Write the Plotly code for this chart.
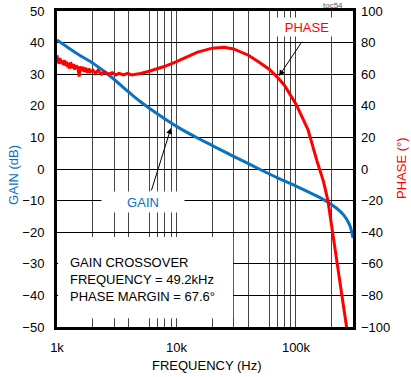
import plotly.graph_objects as go

# gain curve (dB vs Hz)
gain_freq = [1000, 1200, 1500, 2000, 2600, 3000, 4000, 5000, 7000, 10000, 15000,
             20000, 30000, 40000, 49200, 70000, 100000, 150000, 185000, 220000,
             250000, 280000, 300000]
gain_db = [40.8, 38.8, 36.3, 33.5, 30.3, 28.4, 24.3, 21.3, 17.3, 13.5, 9.8,
           7.4, 4.0, 1.7, 0.0, -2.8, -5.4, -8.6, -10.5, -12.5,
           -14.5, -17.5, -21.8]

# phase curve (degrees vs Hz), noisy at low frequency
phase_freq = [1000, 1015, 1030, 1045, 1060, 1080, 1100, 1130, 1150, 1170, 1200,
              1230, 1250, 1280, 1300, 1350, 1380, 1400, 1450, 1500, 1530, 1560,
              1600, 1650, 1700, 1730, 1800, 1850, 1900, 2000, 2100, 2200,
              2350, 2500, 2700, 2900, 3100, 3300, 3600, 3900, 4200, 4600, 5000,
              6000, 7000, 8000, 10000, 12500, 15000, 20000, 25000, 30000, 40000,
              49200, 60000, 70000, 80000, 100000, 126000, 150000, 170000, 185000,
              200000, 233000, 267000, 290000]
phase_deg = [72, 67, 70.5, 66.5, 70, 67, 68.5, 66, 69, 65.5, 68,
             64.5, 67, 63.5, 67.5, 64, 66.5, 63, 65.5, 63.5, 58.5, 65,
             62, 64.5, 61.5, 64, 61, 63.5, 61.5, 62.5, 60.5, 62.5,
             60, 61.5, 60, 61, 59.5, 60.5, 59.5, 60.5, 59.5, 59.8, 60.5,
             62, 63.5, 65, 68, 71.5, 74, 76.5, 77, 76, 72,
             67.6, 63, 58, 53, 41, 25, 5, -8, -20,
             -37, -70, -100, -120]

x_tickvals = [1e3, 1e4, 1e5]
x_ticktext = ["1k", "10k", "100k"]
x_minor = [2e3, 3e3, 4e3, 6e3, 7e3, 8e3, 9e3,
           2e4, 3e4, 4e4, 6e4, 7e4, 8e4, 9e4, 2e5]

BLUE = "#0A72C2"
RED = "#FF0000"
FONT = "Liberation Sans Narrow, Arial Narrow, Liberation Sans, Arial"
FS = 13

fig = go.Figure()

fig.add_trace(go.Scatter(x=gain_freq, y=gain_db, mode="lines",
                         line=dict(color=BLUE, width=3), line_shape="spline",
                         showlegend=False))
fig.add_trace(go.Scatter(x=phase_freq, y=phase_deg, mode="lines", yaxis="y2",
                         line=dict(color=RED, width=3), showlegend=False))

fig.update_layout(
    width=411, height=377,
    margin=dict(l=57, r=58, t=11, b=50, autoexpand=False),
    plot_bgcolor="white", paper_bgcolor="white",
    font=dict(family=FONT, size=FS, color="black"),
    xaxis=dict(type="log", range=[3, 5.4771],
               tickvals=x_tickvals, ticktext=x_ticktext,
               showgrid=True, gridcolor="#444", gridwidth=1,
               minor=dict(tickvals=x_minor, showgrid=True, gridcolor="#444", gridwidth=1),
               showline=True, linecolor="black", linewidth=3, mirror=True,
               ticks="", ticklabelstandoff=6, zeroline=False, automargin=False),
    yaxis=dict(range=[-50, 50], dtick=10, showgrid=True, gridcolor="black", gridwidth=1,
               showline=True, linecolor="black", linewidth=3, mirror=True,
               ticks="", ticklabelstandoff=7, zeroline=False, automargin=False),
    yaxis2=dict(range=[-100, 100], dtick=20, overlaying="y", side="right",
                showgrid=False, showline=False, ticks="", ticklabelstandoff=7,
                zeroline=False, automargin=False),
)

# white box behind the crossover note
fig.add_shape(type="rect", xref="paper", yref="paper", x0=0.004, x1=0.595,
              y0=0.028, y1=0.285, fillcolor="white", line_width=0, layer="above")

fig.add_annotation(text="GAIN CROSSOVER<br>FREQUENCY = 49.2kHz<br>PHASE MARGIN = 67.6°",
                   xref="paper", yref="paper", x=0.037, y=0.149, xanchor="left",
                   yanchor="middle", align="left", showarrow=False,
                   font=dict(size=FS, color="black"))

fig.add_annotation(text="PHASE", xref="paper", yref="paper", x=0.845, y=0.949,
                   xanchor="center", yanchor="middle",
                   showarrow=False, font=dict(size=FS, color=RED),
                   bgcolor="white", width=68, height=16)
fig.add_annotation(text="", xref="paper", yref="paper", x=0.75, y=0.794,
                   ax=24, ay=-36, showarrow=True, arrowhead=2, arrowsize=1.2,
                   arrowwidth=1, arrowcolor="black")

fig.add_annotation(text="", xref="paper", yref="paper", x=0.385, y=0.63,
                   ax=-20, ay=64, showarrow=True, arrowhead=2, arrowsize=1.2,
                   arrowwidth=1, arrowcolor="black")
fig.add_annotation(text="GAIN", xref="paper", yref="paper", x=0.291, y=0.396,
                   xanchor="center", yanchor="middle",
                   showarrow=False, font=dict(size=FS, color=BLUE),
                   bgcolor="white", width=80, height=18)

# axis titles
fig.add_annotation(text="GAIN (dB)", xref="paper", yref="paper", x=-0.149, y=0.481,
                   xanchor="center", yanchor="middle",
                   textangle=-90, showarrow=False, font=dict(size=FS, color=BLUE))
fig.add_annotation(text="PHASE (°)", xref="paper", yref="paper", x=1.162, y=0.503,
                   xanchor="center", yanchor="middle",
                   textangle=-90, showarrow=False, font=dict(size=FS, color=RED))
fig.add_annotation(text="FREQUENCY (Hz)", xref="paper", yref="paper", x=0.507, y=-0.123,
                   xanchor="center", yanchor="middle",
                   showarrow=False, font=dict(size=FS, color="black"))
fig.add_annotation(text="toc54", xref="paper", yref="paper", x=0.932, y=1.017,
                   xanchor="center", yanchor="middle",
                   showarrow=False, font=dict(size=8, color="#555"))

fig.write_html("out.html", config={"displayModeBar": False},
               post_script="document.body.style.margin='0';")
